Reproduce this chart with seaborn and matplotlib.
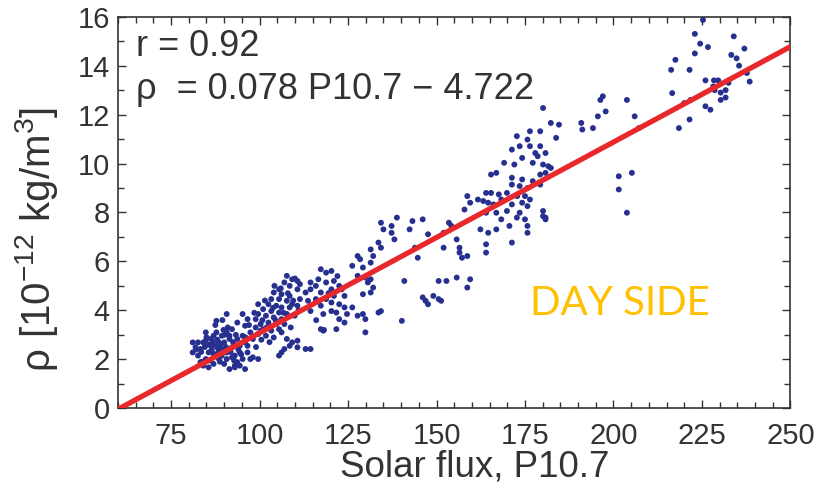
import numpy as np
import pandas as pd
import matplotlib
matplotlib.use("Agg")
import matplotlib.pyplot as plt
from matplotlib.ticker import MultipleLocator
import seaborn as sns

# ---- data ----
flux = [
 216.3,217.5,216.6,218.5,221.5,220.0,221.8,221.5,223.0,223.0,224.5,225.3,226.0,226.7,226.0,227.4,228.2,228.4,228.6,229.6,230.3,231.7,232.5,234.0,233.3,234.8,235.5,237.0,237.7,238.5,230.3,231.7,
 190.9,191.2,194.2,195.6,196.3,197.0,197.8,201.5,201.5,203.8,203.8,205.2,206.0,207.2,
 180.1,182.3,184.6,183.8,179.3,176.4,175.7,172.7,173.5,176.4,179.3,177.9,180.8,171.3,174.2,178.6,169.1,172.0,177.2,180.1,181.6,182.3,180.8,179.3,165.4,166.9,171.3,174.2,177.2,171.3,173.5,175.7,179.3,164.0,165.4,167.6,169.9,172.8,175.0,176.4,158.7,159.5,161.7,163.2,164.6,166.1,168.3,171.3,174.2,175.7,157.9,164.0,166.9,169.9,173.5,180.1,180.8,172.7,175.0,168.3,170.6,175.7,175.7,166.9,164.6,162.4,171.3,164.0,164.0,180.1,180.8,
 153.5,154.2,152.0,155.7,152.0,156.5,156.5,157.2,158.7,159.5,155.7,152.8,150.6,158.7,149.1,150.6,146.9,147.6,146.1,151.3,146.1,143.2,142.4,143.9,144.7,147.6,140.9,140.2,138.8,
 134.3,135.0,137.3,137.3,138.1,133.6,134.3,131.4,132.1,127.7,128.4,131.4,126.2,129.2,127.7,129.9,131.4,130.6,132.1,131.4,129.2,134.3,133.6,129.2,129.9,127.7,124.0,124.7,129.9,
 117.3,118.8,120.3,116.6,114.4,115.9,118.8,121.0,122.5,123.2,120.3,117.3,114.4,113.0,124.0,121.0,118.8,115.9,113.7,117.3,120.3,122.5,124.0,126.2,120.3,114.4,118.0,121.7,122.5,117.3,118.0,121.7,
 116.0,119.5,122.0,118.2,
 107.7,109.2,110.7,107.0,108.5,111.4,105.5,110.7,104.0,106.2,108.5,111.4,103.3,105.5,107.7,109.2,110.7,102.5,104.7,106.2,108.5,101.0,103.3,105.5,107.7,109.9,99.6,101.8,104.0,106.2,102.5,104.7,107.0,100.3,98.9,101.0,103.3,105.5,106.2,99.6,101.8,104.0,107.7,109.2,110.7,108.5,110.7,113.0,114.4,107.0,105.5,106.2,
 100.8,102.0,103.8,104.5,106.8,108.0,109.5,111.0,102.8,101.5,104.2,108.8,100.5,106.0,110.0,
 81.1,81.1,81.9,82.6,83.3,84.1,84.8,85.6,86.3,84.1,85.6,87.0,86.3,87.8,87.0,87.8,88.5,89.3,88.5,89.3,90.0,90.7,90.7,91.5,92.2,92.2,93.0,93.0,93.0,93.7,94.4,95.2,93.7,95.9,96.6,95.2,97.4,98.1,95.9,96.6,98.1,99.6,97.4,100.3,98.9,99.6,90.7,87.8,91.5,84.8,83.3,90.0,88.5,94.4,96.6,93.7,82.6,84.8,89.3,87.0,90.7,92.2,95.2,94.4,95.9,91.5,
 83.5,84.5,85.5,86.5,87.5,88.0,89.0,89.8,90.5,91.0,91.8,92.5,93.3,94.0,94.8,85.0,86.0,88.8,92.8,96.0,97.0,98.5,99.0,82.0,83.8,87.5,89.5,90.2,86.8,88.2,
]
density = [
 13.83,14.24,12.88,11.45,11.80,12.47,12.60,13.83,14.50,15.30,14.90,15.87,13.40,14.76,12.34,12.20,13.15,13.40,13.00,13.40,12.90,13.00,13.30,15.20,14.44,14.30,14.00,14.70,13.70,13.35,12.60,12.70,
 11.66,11.39,11.45,11.93,12.60,12.75,12.13,9.48,8.94,7.99,12.60,9.62,11.93,11.45,
 12.27,11.66,11.59,11.05,11.32,11.32,10.98,11.12,10.71,10.71,10.71,10.43,10.43,10.57,10.23,10.30,10.03,9.96,10.03,9.96,9.89,9.82,9.62,9.55,9.55,9.62,9.42,9.35,9.28,9.14,9.08,9.00,9.14,8.80,8.80,8.74,8.80,8.67,8.67,8.53,8.67,8.40,8.53,8.47,8.40,8.33,8.53,8.33,8.40,8.26,8.12,7.99,7.99,8.06,7.99,8.06,7.79,7.79,7.72,7.72,7.45,7.45,7.17,7.31,7.17,7.31,6.77,6.70,6.36,7.85,7.72,
 7.58,7.45,7.17,6.90,6.56,6.36,6.56,6.15,6.22,5.27,5.34,5.20,5.20,4.93,4.59,4.46,4.39,4.25,4.53,4.39,7.72,7.65,7.31,6.56,6.15,7.11,5.20,3.57,7.79,
 7.58,7.31,7.45,7.17,6.90,6.77,6.56,6.49,6.22,6.22,6.09,5.95,5.82,5.75,5.41,5.34,5.27,5.14,4.93,4.73,4.66,3.97,3.91,3.85,3.64,3.78,3.50,3.85,3.10,
 5.68,5.54,5.61,5.27,5.14,5.00,5.14,5.20,5.00,4.86,4.86,4.73,4.86,4.73,4.59,4.59,4.46,4.46,4.39,4.19,4.32,4.25,4.12,4.12,3.97,3.97,3.85,3.91,3.64,3.23,3.17,3.23,
 3.60,4.70,5.40,3.20,
 5.41,5.27,5.20,5.14,5.00,5.07,4.86,4.86,4.73,4.66,4.59,4.46,4.46,4.46,4.39,4.25,4.19,4.25,4.19,4.12,4.12,4.05,3.97,3.91,3.85,3.78,3.85,3.78,3.71,3.64,3.50,3.44,3.44,3.44,3.30,3.23,3.17,3.23,3.10,3.03,2.96,2.89,2.83,2.69,2.76,2.55,2.49,2.42,2.42,2.42,2.15,2.28,
 3.60,3.30,4.10,3.60,3.90,4.70,4.40,4.00,2.70,4.40,5.00,3.30,2.80,4.90,5.30,
 2.69,2.28,2.49,2.15,2.42,2.69,2.01,2.28,2.55,1.74,1.67,1.81,2.83,3.10,2.96,3.57,2.69,2.42,2.01,2.96,2.69,2.28,3.10,2.83,3.23,2.49,2.15,1.74,1.67,1.88,2.55,2.96,3.50,3.37,3.64,3.85,3.10,2.83,2.69,2.28,2.08,2.01,2.01,3.17,3.64,4.25,3.85,2.55,2.96,3.10,1.88,1.81,2.35,2.28,2.55,2.83,2.69,2.76,2.15,2.22,2.01,2.08,2.01,1.74,1.60,1.60,
 2.30,2.50,2.60,2.40,2.20,2.80,2.60,3.20,2.50,3.30,2.30,2.70,3.00,2.40,2.20,2.90,1.95,1.90,1.95,2.90,3.40,3.90,2.50,2.40,1.90,3.40,3.60,3.00,2.70,2.45,
]
fit_slope = 0.078
fit_intercept = -4.722
fit_range = [60, 250]
x_ticks = [75, 100, 125, 150, 175, 200, 225, 250]
y_ticks = [0, 2, 4, 6, 8, 10, 12, 14, 16]

df = pd.DataFrame({"flux": flux, "density": density})
fit_x = np.array(fit_range, dtype=float)
fit_df = pd.DataFrame({"flux": fit_x, "density": fit_slope * fit_x + fit_intercept})

sns.set_theme(style="white")
plt.rcParams["font.family"] = ["Liberation Sans", "DejaVu Sans"]
plt.rcParams["mathtext.fontset"] = "custom"
plt.rcParams["mathtext.rm"] = "Liberation Sans"
plt.rcParams["mathtext.it"] = "Liberation Sans:italic"
plt.rcParams["mathtext.default"] = "regular"

fig = plt.figure(figsize=(8.14, 4.93), dpi=100)
ax = fig.add_axes([0.145, 0.172, 0.826, 0.794])

sns.scatterplot(data=df, x="flux", y="density", ax=ax, color="#27308f",
                s=18, linewidth=0, edgecolor="none", zorder=2)
sns.lineplot(data=fit_df, x="flux", y="density", ax=ax, color="#e8282b",
             linewidth=3.8, zorder=3)

ax.set_xlim(60, 250)
ax.set_ylim(0, 16)
ax.set_xticks(x_ticks)
ax.set_yticks(y_ticks)
ax.xaxis.set_minor_locator(MultipleLocator(5))
ax.yaxis.set_minor_locator(MultipleLocator(1))
ax.tick_params(which="both", direction="in", top=True, right=True,
               bottom=True, left=True, color="#333333", width=1.0)
ax.tick_params(which="major", length=6, labelsize=21, labelcolor="#333333", pad=6)
ax.tick_params(axis="x", which="major", pad=10)
ax.tick_params(which="minor", length=4)
for s in ax.spines.values():
    s.set_color("#333333")
    s.set_linewidth(1.2)

ax.set_xlabel("Solar flux, P10.7", fontsize=26.5, color="#333333")
ax.xaxis.set_label_coords(0.53, -0.105)
ax.set_ylabel("ρ [10$^{-12}$ kg/m$^{3}$]", fontsize=29, color="#333333")
ax.yaxis.set_label_coords(-0.087, 0.43)

ax.text(0.027, 0.925, "r = 0.92", transform=ax.transAxes, fontsize=26,
        color="#333333", va="center", ha="left")
ax.text(0.027, 0.815, "ρ  = 0.078 P10.7 − 4.722", transform=ax.transAxes,
        fontsize=26, color="#333333", va="center", ha="left")
ax.text(0.746, 0.268, "DAY SIDE", transform=ax.transAxes, fontsize=29,
        color="#ffc000", va="center", ha="center", family=["Lato", "DejaVu Sans"])

fig.savefig("out.png", dpi=100)
